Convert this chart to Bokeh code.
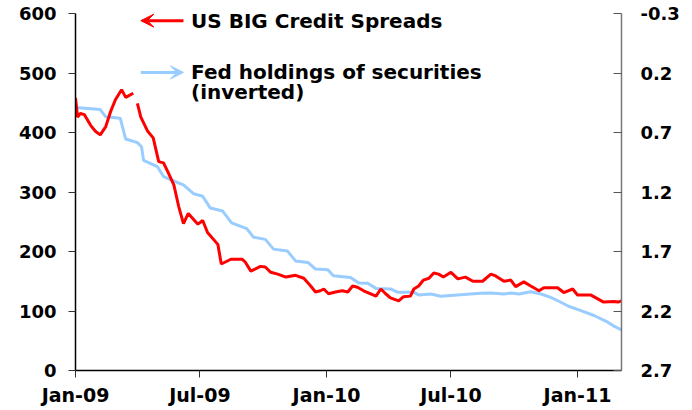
import numpy as np
import pandas as pd
from bokeh.plotting import figure
from bokeh.models import (Range1d, LinearAxis, FixedTicker, PrintfTickFormatter,
                          DatetimeTickFormatter, Arrow, VeeHead, Label, ColumnDataSource)
from bokeh.embed import file_html
from bokeh.resources import INLINE

# ---------------- data ----------------
spread_dates = [
    "2009-01-01", "2009-01-04", "2009-01-08", "2009-01-14", "2009-01-23", "2009-01-30",
    "2009-02-06", "2009-02-14", "2009-02-21", "2009-02-28", "2009-03-09", "2009-03-15",
    "2009-03-26", "2009-03-29", "2009-04-01", "2009-04-06", "2009-04-16", "2009-04-24",
    "2009-05-02", "2009-05-09", "2009-05-16", "2009-05-24", "2009-05-31", "2009-06-07",
    "2009-06-14", "2009-06-28", "2009-07-05", "2009-07-12", "2009-07-27", "2009-08-01",
    "2009-08-15", "2009-08-31", "2009-09-05", "2009-09-13", "2009-09-27", "2009-10-04",
    "2009-10-12", "2009-10-22", "2009-11-03", "2009-11-17", "2009-11-29", "2009-12-09",
    "2009-12-16", "2009-12-23", "2009-12-28", "2010-01-04", "2010-01-14", "2010-01-24",
    "2010-02-01", "2010-02-08", "2010-02-15", "2010-02-24", "2010-03-14", "2010-03-21",
    "2010-03-28", "2010-04-04", "2010-04-16", "2010-04-23", "2010-05-03", "2010-05-08",
    "2010-05-15", "2010-05-22", "2010-05-30", "2010-06-06", "2010-06-13", "2010-06-20",
    "2010-07-01", "2010-07-11", "2010-07-22", "2010-08-02", "2010-08-16", "2010-08-28",
    "2010-09-04", "2010-09-16", "2010-09-26", "2010-10-03", "2010-10-15", "2010-10-25",
    "2010-11-06", "2010-11-13", "2010-12-03", "2010-12-12", "2010-12-25", "2011-01-01",
    "2011-01-20", "2011-02-08", "2011-02-23", "2011-03-01", "2011-03-06",
]
spread_values = [
    458, 426, 432, 430, 412, 402,
    396, 410, 435, 455, 472, 459,
    466, np.nan, 449, 426, 402, 391,
    351, 349, 332, 312, 276, 247,
    264, 246, 252, 232, 212, 179,
    187, 187, 182, 167, 175, 174,
    165, 162, 157, 160, 155, 142,
    132, 134, 137, 129, 132, 134,
    132, 142, 140, 134, 125, 137,
    129, 122, 117, 124, 125, 137,
    142, 152, 155, 164, 162, 157,
    165, 154, 157, 150, 150, 162,
    159, 150, 152, 141, 149, 142,
    134, 139, 139, 131, 137, 127,
    127, 115, 116, 115, 117,
]

fed_dates = [
    "2009-01-01", "2009-02-06", "2009-02-14", "2009-03-07", "2009-03-15", "2009-04-01",
    "2009-04-07", "2009-04-10", "2009-04-30", "2009-05-09", "2009-05-29", "2009-06-07",
    "2009-06-22", "2009-07-05", "2009-07-16", "2009-08-03", "2009-08-16", "2009-09-07",
    "2009-09-17", "2009-10-04", "2009-10-16", "2009-11-05", "2009-11-17", "2009-12-05",
    "2009-12-16", "2010-01-03", "2010-01-11", "2010-02-05", "2010-02-17", "2010-03-02",
    "2010-03-14", "2010-04-04", "2010-04-15", "2010-05-08", "2010-05-15", "2010-06-02",
    "2010-06-16", "2010-07-15", "2010-08-13", "2010-08-28", "2010-09-16", "2010-09-26",
    "2010-10-08", "2010-10-25", "2010-11-09", "2010-11-23", "2010-12-05", "2010-12-19",
    "2011-01-06", "2011-01-25", "2011-02-14", "2011-02-23", "2011-03-06",
]
fed_values = [
    0.49, 0.507, 0.568, 0.58, 0.755, 0.785,
    0.82, 0.935, 0.986, 1.07, 1.12, 1.14,
    1.215, 1.236, 1.335, 1.36, 1.46, 1.508,
    1.58, 1.598, 1.68, 1.695, 1.779, 1.792,
    1.848, 1.854, 1.904, 1.918, 1.965, 1.967,
    2.01, 2.015, 2.043, 2.043, 2.065, 2.057,
    2.076, 2.063, 2.051, 2.049, 2.057, 2.049,
    2.057, 2.038, 2.057, 2.085, 2.118, 2.16,
    2.197, 2.238, 2.294, 2.327, 2.358,
]

left_ticks = [0, 100, 200, 300, 400, 500, 600]
right_ticks = [-0.3, 0.2, 0.7, 1.2, 1.7, 2.2, 2.7]
x_tick_dates = ["2009-01-01", "2009-07-01", "2010-01-01", "2010-07-01", "2011-01-01"]
x_start, x_end = "2009-01-01", "2011-03-06"

spread_name = "US BIG Credit Spreads"
fed_name_1 = "Fed holdings of securities"
fed_name_2 = "(inverted)"

# --------------- helpers ---------------
def ms(d):
    return pd.Timestamp(d).value / 1e6

RED = "#FF0000"
BLUE = "#99CCFF"
FONT = "DejaVu Sans"

p = figure(width=688, height=408, x_axis_type="datetime",
           x_range=Range1d(ms(x_start), ms(x_end)), y_range=Range1d(0, 600),
           output_backend="svg", toolbar_location=None,
           min_border_left=75, min_border_right=67, min_border_top=13, min_border_bottom=36)
p.outline_line_color = None
p.xgrid.visible = False
p.ygrid.visible = False
p.background_fill_color = "white"

p.extra_y_ranges = {"fed": Range1d(2.7, -0.3)}

src_s = ColumnDataSource(dict(x=pd.to_datetime(spread_dates), y=spread_values))
src_f = ColumnDataSource(dict(x=pd.to_datetime(fed_dates), y=fed_values))

p.line("x", "y", source=src_f, y_range_name="fed", line_color=BLUE, line_width=3)
p.line("x", "y", source=src_s, line_color=RED, line_width=3)

# left axis
ya = p.yaxis[0]
ya.ticker = FixedTicker(ticks=left_ticks)
ya.major_label_text_font = FONT
ya.major_label_text_font_style = "bold"
ya.major_label_text_font_size = "18px"
ya.major_label_text_color = "black"
ya.axis_line_color = "black"
ya.axis_line_width = 1.5
ya.major_tick_line_color = "#333333"
ya.major_tick_in = 0
ya.major_tick_out = 7
ya.minor_tick_line_color = None
ya.major_label_standoff = 12

# right axis
ra = LinearAxis(y_range_name="fed", ticker=FixedTicker(ticks=right_ticks),
                formatter=PrintfTickFormatter(format="%.1f"))
ra.major_label_text_font = FONT
ra.major_label_text_font_style = "bold"
ra.major_label_text_font_size = "18px"
ra.major_label_text_color = "black"
ra.axis_line_color = "#777777"
ra.axis_line_width = 1.5
ra.major_tick_line_color = "#555555"
ra.major_tick_in = 8
ra.major_tick_out = 0
ra.minor_tick_line_color = None
ra.major_label_standoff = 19
p.add_layout(ra, "right")

# bottom axis
xa = p.xaxis[0]
xa.ticker = FixedTicker(ticks=[ms(d) for d in x_tick_dates])
fmt = "%b-%y"
xa.formatter = DatetimeTickFormatter(days=fmt, months=fmt, years=fmt, hours=fmt,
                                     minutes=fmt, seconds=fmt, milliseconds=fmt,
                                     microseconds=fmt, minsec=fmt, hourmin=fmt)
xa.major_label_text_font = FONT
xa.major_label_text_font_style = "bold"
xa.major_label_text_font_size = "19px"
xa.major_label_text_color = "black"
xa.axis_line_color = "black"
xa.axis_line_width = 1.5
xa.major_tick_line_color = "#333333"
xa.major_tick_in = 0
xa.major_tick_out = 7
xa.minor_tick_line_color = None
xa.major_label_standoff = 6

# legend (arrows + labels)
arrow_tail, arrow_head = ms("2009-06-07"), ms("2009-04-06")
label_x = ms("2009-06-18")
p.add_layout(Arrow(x_start=arrow_tail, y_start=588, x_end=arrow_head, y_end=588,
                   line_color=RED, line_width=3,
                   end=VeeHead(size=13, fill_color=RED, line_color=RED, line_width=1)))
p.add_layout(Arrow(x_start=arrow_head, y_start=501, x_end=arrow_tail, y_end=501,
                   line_color=BLUE, line_width=3,
                   end=VeeHead(size=13, fill_color=BLUE, line_color=BLUE, line_width=1)))
for txt, yy in [(spread_name, 588), (fed_name_1, 501), (fed_name_2, 468)]:
    p.add_layout(Label(x=label_x, y=yy, text=txt, text_font=FONT, text_font_style="bold",
                       text_font_size="20px", text_color="black", text_baseline="middle",
                       text_align="left"))

open("out.html", "w").write(file_html(p, INLINE))
